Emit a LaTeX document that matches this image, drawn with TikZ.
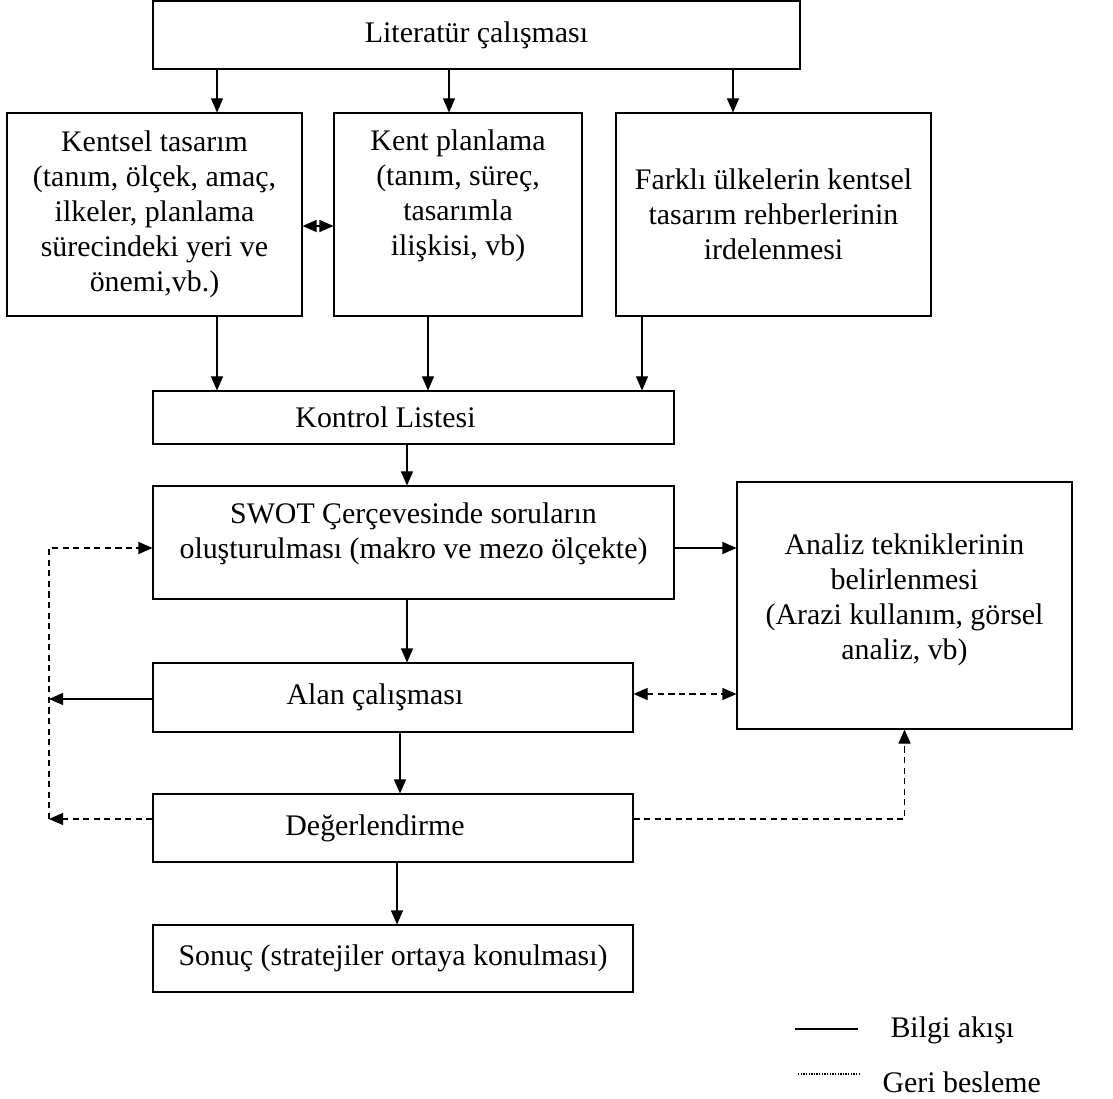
\documentclass[tikz,border=0pt]{standalone}
\usepackage{fontspec}
\setmainfont{Liberation Serif}
\usetikzlibrary{arrows.meta,positioning}

\begin{document}
\begin{tikzpicture}[>={Triangle[length=2.8mm,width=2.4mm]},line width=0.6pt,
  font=\fontsize{17}{20}\selectfont,
  box/.style={draw,align=center,inner sep=2pt},
  txt/.style={align=center,inner sep=0pt},
  fb/.style={dash pattern=on 3.5pt off 2.5pt}]
\useasboundingbox (0,0) rectangle (22.26,-21.98);
% boxes
\node[box,minimum width=12.94cm,minimum height=1.36cm] (lit) at (9.53,-0.7) {Literatür çalışması};
\node[box,minimum width=5.9cm,minimum height=4.06cm] (kentsel) at (3.09,-4.29) {Kentsel tasarım\\(tanım, ölçek, amaç,\\ilkeler, planlama\\sürecindeki yeri ve\\önemi,vb.)};
\node[box,minimum width=4.96cm,minimum height=4.06cm] (plan) at (9.16,-4.29) {};
\node[txt] (plan-t) at (9.16,-3.92) {Kent planlama\\(tanım, süreç,\\tasarımla\\ilişkisi, vb)};
\node[box,minimum width=6.3cm,minimum height=4.06cm] (farkli) at (15.47,-4.29) {Farklı ülkelerin kentsel\\tasarım rehberlerinin\\irdelenmesi};
\node[box,minimum width=10.42cm,minimum height=1.06cm] (kontrol) at (8.27,-8.35) {Kontrol Listesi\hspace*{1.12cm}};
\node[box,minimum width=10.42cm,minimum height=2.26cm] (swot) at (8.27,-10.85) {};
\node[txt] (swot-t) at (8.27,-10.68) {SWOT Çerçevesinde soruların\\oluşturulması (makro ve mezo ölçekte)};
\node[box,minimum width=6.7cm,minimum height=4.94cm] (analiz) at (18.09,-12.11) {};
\node[txt] (analiz-t) at (18.09,-12.0) {Analiz tekniklerinin\\belirlenmesi\\(Arazi kullanım, görsel\\analiz, vb)};
\node[box,minimum width=9.6cm,minimum height=1.38cm] (alan) at (7.86,-13.95) {Alan çalışması\hspace*{0.72cm}};
\node[box,minimum width=9.6cm,minimum height=1.36cm] (deg) at (7.86,-16.56) {Değerlendirme\hspace*{0.72cm}};
\node[box,minimum width=9.6cm,minimum height=1.34cm] (sonuc) at (7.86,-19.17) {Sonuç (stratejiler ortaya konulması)};
\coordinate (fbu) at (0.98,-10.96);
\coordinate (fbl) at (0.98,-16.38);

% bilgi akisi
\draw[->] (4.34,0 |- lit.south) -- (4.34,0 |- kentsel.north);
\draw[->] (8.98,0 |- lit.south) -- (8.98,0 |- plan.north);
\draw[->] (14.66,0 |- lit.south) -- (14.66,0 |- farkli.north);
\draw[<->] (kentsel.east |- 0,-4.52) -- (plan.west |- 0,-4.52);
\draw[->] (4.34,0 |- kentsel.south) -- (4.34,0 |- kontrol.north);
\draw[->] (8.56,0 |- plan.south) -- (8.56,0 |- kontrol.north);
\draw[->] (12.84,0 |- farkli.south) -- (12.84,0 |- kontrol.north);
\draw[->] (8.14,0 |- kontrol.south) -- (8.14,0 |- swot.north);
\draw[->] (swot.east |- fbu) -- (analiz.west |- fbu);
\draw[->] (8.14,0 |- swot.south) -- (8.14,0 |- alan.north);
\draw[->] (alan.west |- 0,-13.98) -- (fbu |- 0,-13.98);
\draw[->] (8.0,0 |- alan.south) -- (8.0,0 |- deg.north);
\draw[->] (7.94,0 |- deg.south) -- (7.94,0 |- sonuc.north);

% geri besleme
\draw[fb,->] (deg.west |- fbl) -- (fbl);
\draw[fb,->] (fbl) -- (fbu) -- (swot.west |- fbu);
\draw[fb,<->] (alan.east |- 0,-13.88) -- (analiz.west |- 0,-13.88);
\draw[fb,->] (deg.east |- fbl) -| (analiz.south);

% legend
\node[txt,anchor=west] (bilgi) at (17.8,-20.6) {Bilgi akışı};
\node[txt,anchor=west] (geri) at (17.64,-21.64) {Geri besleme};
\draw ([xshift=-0.64cm,yshift=0.02cm]bilgi.west) -- ++(-1.26,0);
\draw[line width=1pt,dash pattern=on 0.8pt off 0.7pt] ([xshift=-0.44cm,yshift=0.16cm]geri.west) -- ++(-1.26,0);
\end{tikzpicture}
\end{document}
